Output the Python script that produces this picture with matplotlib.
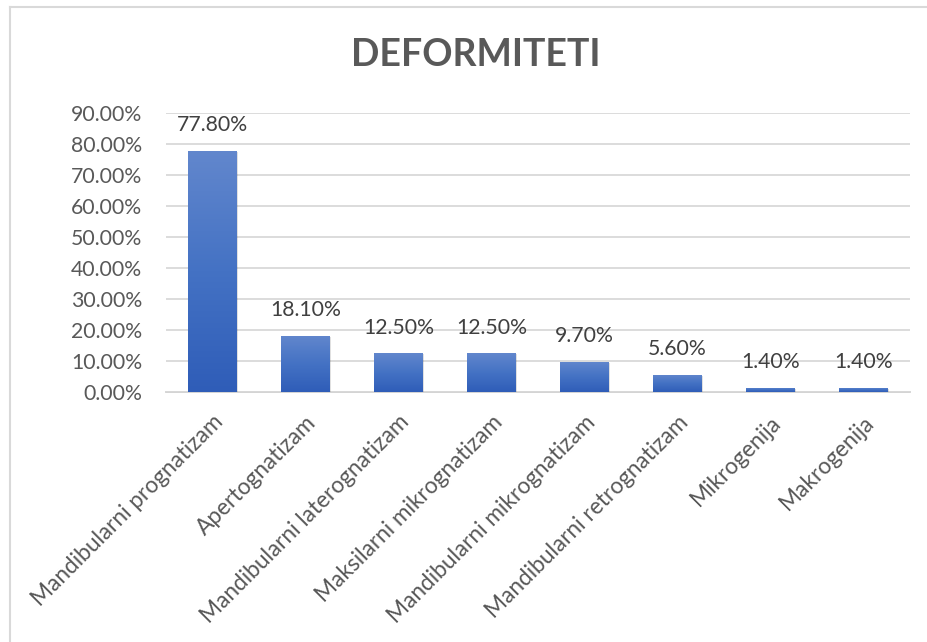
import matplotlib
matplotlib.use("Agg")
import matplotlib.pyplot as plt
import numpy as np
from matplotlib.colors import LinearSegmentedColormap
from matplotlib.patches import Rectangle
from matplotlib.lines import Line2D

categories = ["Mandibularni prognatizam", "Apertognatizam", "Mandibularni laterognatizam",
              "Maksilarni mikrognatizam", "Mandibularni mikrognatizam",
              "Mandibularni retrognatizam", "Mikrogenija", "Makrogenija"]
values = [77.80, 18.10, 12.50, 12.50, 9.70, 5.60, 1.40, 1.40]
yticks = [0, 10, 20, 30, 40, 50, 60, 70, 80, 90]

plt.rcParams['font.family'] = ['Lato', 'DejaVu Sans']
txt = "#595959"

fig = plt.figure(figsize=(9.28, 6.42), dpi=100)
ax = fig.add_axes([166/928, 1-392/642, (910-166)/928, (392-113)/642])

x = np.arange(len(categories))
bars = ax.bar(x, values, width=0.52, color="#4472C4", zorder=3)

cmap = LinearSegmentedColormap.from_list("g", ["#2F5DB8", "#4472C4", "#6287CD"])
grad = np.linspace(0, 1, 256).reshape(-1, 1)
for b in bars:
    bx, by, bw, bh = b.get_x(), b.get_y(), b.get_width(), b.get_height()
    # shadow
    ax.add_patch(Rectangle((bx+0.01, by-0.35), bw, bh, facecolor="#000000", alpha=0.12,
                           edgecolor="none", zorder=2))
    im = ax.imshow(grad, extent=(bx, bx+bw, by, by+bh), origin="lower", cmap=cmap,
                   aspect="auto", zorder=4)
    im.set_clip_path(b)
    ax.text(bx+bw/2, bh+5.0, f"{bh:.2f}%", ha="center", va="bottom", fontsize=15.3,
            color="#404040", zorder=5)

ax.set_xlim(-0.5, len(categories)-0.5)
ax.set_ylim(0, 90)
ax.set_yticks(yticks)
ax.set_yticklabels([f"{v:.2f}%" for v in yticks], fontsize=15.3, color=txt)
ax.set_xticks(x)
ax.set_xticklabels(categories, rotation=45, ha="right", rotation_mode="anchor",
                   fontsize=16.3, color=txt)
ax.tick_params(axis="y", length=0, pad=17)
ax.tick_params(axis="x", length=0, pad=14)
ax.grid(axis="y", color="#D9D9D9", linewidth=1.3, zorder=0)
for s in ["top", "right", "left"]:
    ax.spines[s].set_visible(False)
ax.spines["bottom"].set_color("#D0D0D0")
ax.spines["bottom"].set_linewidth(1.3)
ax.spines["bottom"].set_zorder(1)

fig.text(476/928, 1-55/642, "DEFORMITETI", ha="center", va="center", fontsize=27,
         fontweight="bold", color=txt)

# chart border (left and top visible)
fig.add_artist(Line2D([10/928, 10/928], [0, 1-6.5/642], transform=fig.transFigure,
                      color="#D9D9D9", linewidth=1.5))
fig.add_artist(Line2D([10/928, 1], [1-6.5/642, 1-6.5/642], transform=fig.transFigure,
                      color="#D9D9D9", linewidth=1.5))

fig.savefig("out.png", dpi=100)
